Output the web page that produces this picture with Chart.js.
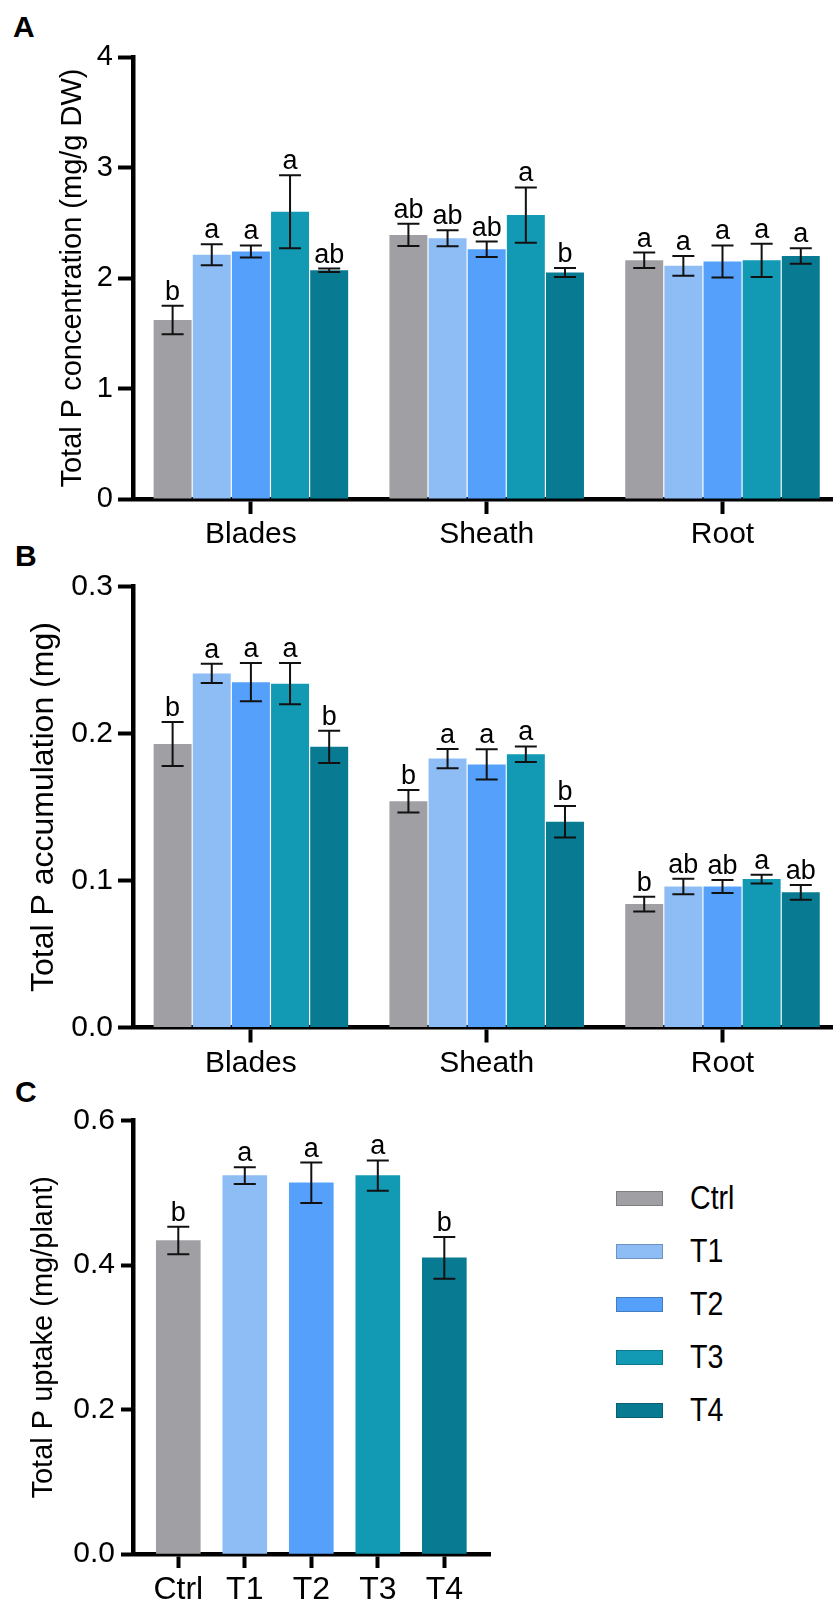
<!DOCTYPE html>
<html>
<head>
<meta charset="utf-8">
<script src="https://cdn.jsdelivr.net/npm/chart.js@4.4.1/dist/chart.umd.min.js"></script>
<style>
  html, body { margin: 0; padding: 0; width: 833px; height: 1614px; overflow: hidden; background: #fff; }
  body { position: relative; font-family: "Liberation Sans", Arial, sans-serif; color: #000; }
  canvas { position: absolute; left: 0; }
  #chartA { top: 0; }
  #chartB { top: 560px; }
  #chartC { top: 1080px; }
  .panel { position: absolute; font-weight: bold; font-size: 30px; line-height: 30px; }
  #legend { position: absolute; left: 616px; top: 1172px; }
  .item { height: 53px; display: flex; align-items: center; }
  .box { width: 47px; height: 15px; box-sizing: border-box; border: 1px solid rgba(0,0,0,0.22); }
  .lbl { margin-left: 27px; font-size: 34px; line-height: 34px; transform: scaleX(0.84); transform-origin: left center; margin-top: -3px; }
</style>
</head>
<body>
<div class="panel" style="left:13px;top:12px">A</div>
<div class="panel" style="left:15px;top:541px">B</div>
<div class="panel" style="left:15px;top:1077px">C</div>
<canvas id="chartA" width="845" height="560"></canvas>
<canvas id="chartB" width="845" height="520"></canvas>
<canvas id="chartC" width="500" height="534"></canvas>
<div id="legend"></div>
<script>
const organs = ["Blades", "Sheath", "Root"];
const treatments = ["Ctrl", "T1", "T2", "T3", "T4"];
const colors = ["#a0a0a4", "#8ebdf6", "#55a0fa", "#1299b3", "#087b93"];

// A - total P concentration (mg/g DW), per treatment over Blades/Sheath/Root
const concCtrl = [1.62, 2.39, 2.16];
const concT1 = [2.21, 2.36, 2.11];
const concT2 = [2.24, 2.26, 2.15];
const concT3 = [2.60, 2.57, 2.16];
const concT4 = [2.07, 2.05, 2.20];
const concErrCtrl = [0.13, 0.10, 0.07];
const concErrT1 = [0.095, 0.072, 0.09];
const concErrT2 = [0.055, 0.07, 0.145];
const concErrT3 = [0.33, 0.25, 0.15];
const concErrT4 = [0.015, 0.04, 0.07];
const concLetCtrl = ["b", "ab", "a"];
const concLetT1 = ["a", "ab", "a"];
const concLetT2 = ["a", "ab", "a"];
const concLetT3 = ["a", "a", "a"];
const concLetT4 = ["ab", "b", "a"];

// B - total P accumulation (mg)
const accCtrl = [0.193, 0.154, 0.084];
const accT1 = [0.241, 0.183, 0.096];
const accT2 = [0.235, 0.179, 0.096];
const accT3 = [0.234, 0.186, 0.101];
const accT4 = [0.191, 0.140, 0.092];
const accErrCtrl = [0.015, 0.0077, 0.005];
const accErrT1 = [0.0066, 0.0066, 0.0053];
const accErrT2 = [0.013, 0.0103, 0.0044];
const accErrT3 = [0.014, 0.0053, 0.003];
const accErrT4 = [0.011, 0.0107, 0.005];
const accLetCtrl = ["b", "b", "b"];
const accLetT1 = ["a", "a", "ab"];
const accLetT2 = ["a", "a", "ab"];
const accLetT3 = ["a", "a", "a"];
const accLetT4 = ["b", "b", "ab"];

// C - total P uptake (mg/plant)
const uptake = [0.434, 0.524, 0.514, 0.524, 0.410];
const uptakeErr = [0.019, 0.0115, 0.028, 0.021, 0.029];
const uptakeLet = ["b", "a", "a", "a", "b"];

Chart.defaults.font.family = '"Liberation Sans", Arial, sans-serif';
Chart.defaults.color = "#000";
Chart.defaults.animation = false;

const errorBars = {
  id: "errorBars",
  afterDatasetsDraw(chart) {
    const { ctx } = chart;
    const y = chart.scales.y;
    ctx.save();
    ctx.strokeStyle = "#111";
    ctx.fillStyle = "#000";
    ctx.lineWidth = 2;
    ctx.font = '27px "Liberation Sans", Arial, sans-serif';
    ctx.textAlign = "center";
    ctx.textBaseline = "alphabetic";
    chart.data.datasets.forEach((ds, di) => {
      chart.getDatasetMeta(di).data.forEach((bar, i) => {
        const d = ds.data[i];
        const v = typeof d === "object" ? d.y : d;
        const e = ds.errors[i];
        const top = y.getPixelForValue(v + e);
        const bot = y.getPixelForValue(v - e);
        ctx.beginPath();
        ctx.moveTo(bar.x, top); ctx.lineTo(bar.x, bot);
        ctx.moveTo(bar.x - 11, top); ctx.lineTo(bar.x + 11, top);
        ctx.moveTo(bar.x - 11, bot); ctx.lineTo(bar.x + 11, bot);
        ctx.stroke();
        ctx.fillText(ds.letters[i], bar.x, top - 6);
      });
    });
    ctx.restore();
  }
};

function axisLook(tickLen) {
  return {
    z: 1,
    border: { display: true, color: "#000", width: 4.5 },
    grid: { display: true, drawOnChartArea: false, drawTicks: true, tickLength: tickLen, tickWidth: 4, tickColor: "#000", offset: false },
  };
}

function groupedChart(id, series, errs, lets, yMax, yStep, dec, title, titleSize, titlePad, tickSize, padTop, xHeight) {
  return new Chart(document.getElementById(id), {
    type: "bar",
    data: {
      labels: organs,
      datasets: treatments.map((t, k) => ({
        label: t,
        data: series[k],
        errors: errs[k],
        letters: lets[k],
        backgroundColor: colors[k],
        borderWidth: 0,
        categoryPercentage: 0.83,
        barPercentage: 0.97,
      }))
    },
    options: {
      responsive: false,
      layout: { padding: { top: padTop, left: 0, right: 4.6, bottom: 0 } },
      plugins: { legend: { display: false }, tooltip: { enabled: false } },
      scales: {
        x: {
          ...axisLook(15),
          offset: true,
          ticks: { color: "#000", font: { size: 30 }, padding: 3 },
          afterFit: s => { s.height = xHeight; },
        },
        y: {
          ...axisLook(15),
          min: 0,
          max: yMax,
          ticks: { stepSize: yStep, color: "#000", font: { size: tickSize }, padding: 5, callback: v => v.toFixed(dec) },
          title: { display: true, text: title, color: "#000", font: { size: titleSize }, padding: { top: titlePad, bottom: 0 } },
          afterFit: s => { s.width = 133; },
        }
      }
    },
    plugins: [errorBars]
  });
}

groupedChart("chartA",
  [concCtrl, concT1, concT2, concT3, concT4],
  [concErrCtrl, concErrT1, concErrT2, concErrT3, concErrT4],
  [concLetCtrl, concLetT1, concLetT2, concLetT3, concLetT4],
  4, 1, 0, "Total P concentration (mg/g DW)", 29, 55.5, 29, 57, 61);

groupedChart("chartB",
  [accCtrl, accT1, accT2, accT3, accT4],
  [accErrCtrl, accErrT1, accErrT2, accErrT3, accErrT4],
  [accLetCtrl, accLetT1, accLetT2, accLetT3, accLetT4],
  0.3, 0.1, 1, "Total P accumulation (mg)", 32, 25, 30, 26.7, 52.5);

new Chart(document.getElementById("chartC"), {
  type: "bar",
  data: {
    datasets: [{
      data: uptake.map((v, i) => ({ x: i, y: v })),
      errors: uptakeErr,
      letters: uptakeLet,
      backgroundColor: colors,
      borderWidth: 0,
      barThickness: 44,
    }]
  },
  options: {
    responsive: false,
    layout: { padding: { top: 40.7, left: 0, right: 10, bottom: 0 } },
    plugins: { legend: { display: false }, tooltip: { enabled: false } },
    scales: {
      x: {
        ...axisLook(14),
        type: "linear",
        offset: false,
        min: -0.681,
        max: 4.687,
        afterBuildTicks: s => { s.ticks = treatments.map((t, i) => ({ value: i })); },
        ticks: {
          color: "#000", padding: 3,
          font: { size: 32 },
          callback: v => treatments[v]
        },
        afterFit: s => { s.height = 60; },
      },
      y: {
        ...axisLook(12),
        min: 0,
        max: 0.6,
        ticks: { stepSize: 0.2, color: "#000", font: { size: 30 }, padding: 6, callback: v => v.toFixed(1) },
        title: { display: true, text: "Total P uptake (mg/plant)", color: "#000", font: { size: 29 }, padding: { top: 27, bottom: 0 } },
        afterFit: s => { s.width = 133; },
      }
    }
  },
  plugins: [errorBars]
});

// legend built from the same treatment names and colours
const legend = document.getElementById("legend");
treatments.forEach((t, k) => {
  const row = document.createElement("div");
  row.className = "item";
  const box = document.createElement("span");
  box.className = "box";
  box.style.background = colors[k];
  const lbl = document.createElement("span");
  lbl.className = "lbl";
  lbl.textContent = t;
  row.appendChild(box);
  row.appendChild(lbl);
  legend.appendChild(row);
});
</script>
</body>
</html>
